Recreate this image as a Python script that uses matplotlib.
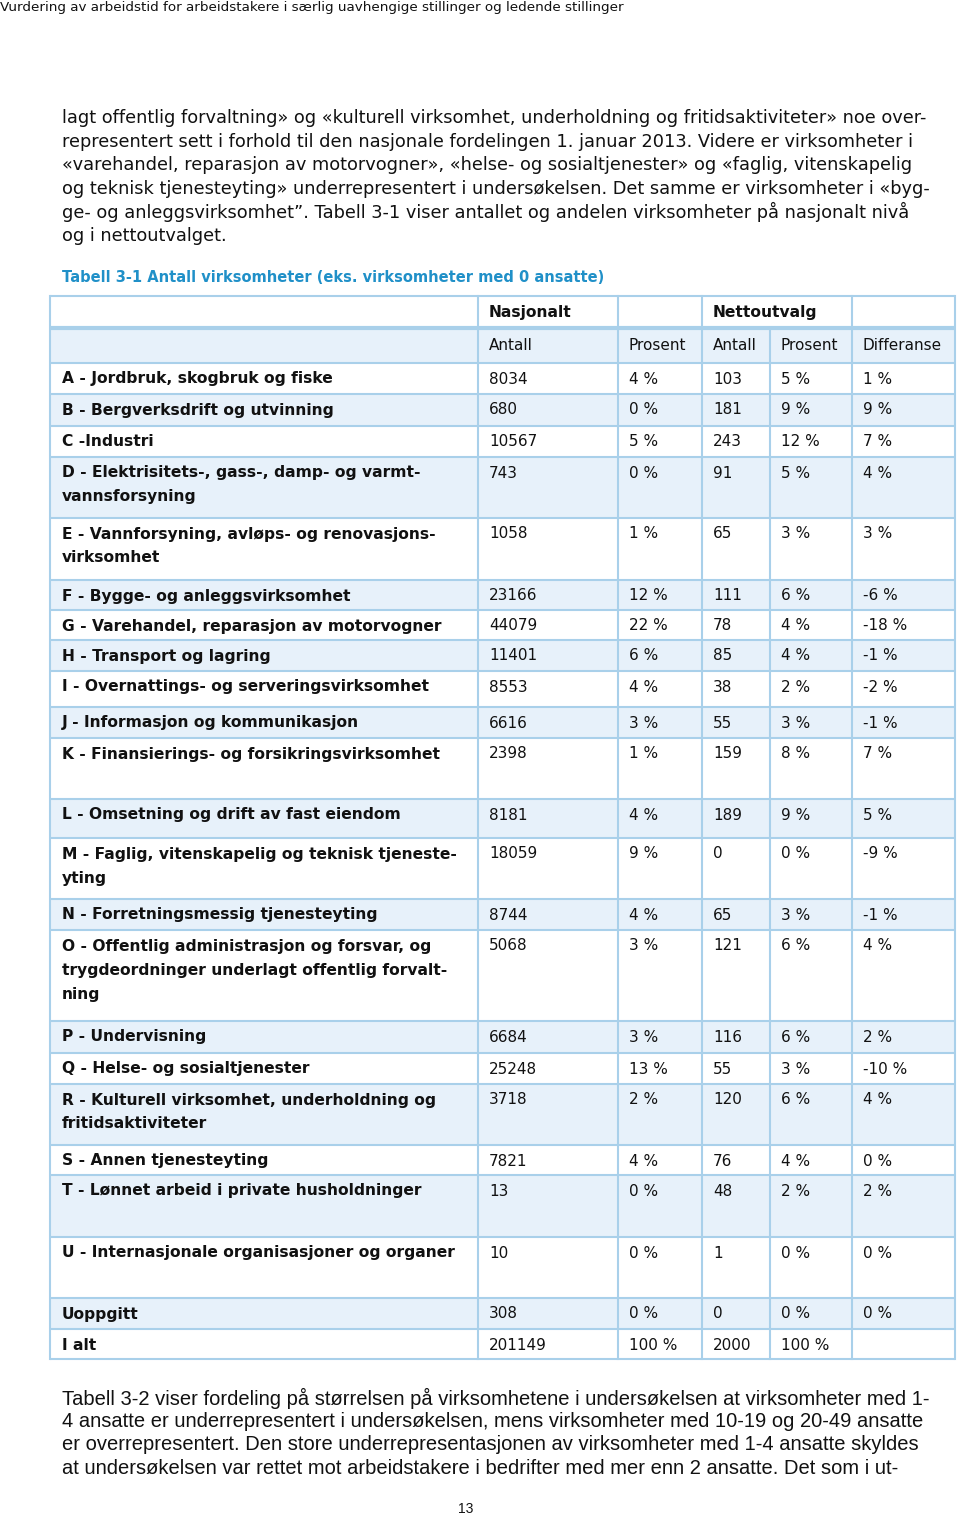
import matplotlib
matplotlib.use("Agg")
import matplotlib.pyplot as plt

# --- table data ---
categories = ["A - Jordbruk, skogbruk og fiske",
              "B - Bergverksdrift og utvinning",
              "C -Industri",
              "D - Elektrisitets-, gass-, damp- og varmt-\nvannsforsyning",
              "E - Vannforsyning, avløps- og renovasjons-\nvirksomhet",
              "F - Bygge- og anleggsvirksomhet",
              "G - Varehandel, reparasjon av motorvogner",
              "H - Transport og lagring",
              "I - Overnattings- og serveringsvirksomhet",
              "J - Informasjon og kommunikasjon",
              "K - Finansierings- og forsikringsvirksomhet",
              "L - Omsetning og drift av fast eiendom",
              "M - Faglig, vitenskapelig og teknisk tjeneste-\nyting",
              "N - Forretningsmessig tjenesteyting",
              "O - Offentlig administrasjon og forsvar, og\ntrygdeordninger underlagt offentlig forvalt-\nning",
              "P - Undervisning",
              "Q - Helse- og sosialtjenester",
              "R - Kulturell virksomhet, underholdning og\nfritidsaktiviteter",
              "S - Annen tjenesteyting",
              "T - Lønnet arbeid i private husholdninger",
              "U - Internasjonale organisasjoner og organer",
              "Uoppgitt",
              "I alt"]
nas_antall = [8034, 680, 10567, 743, 1058, 23166, 44079, 11401, 8553, 6616, 2398,
              8181, 18059, 8744, 5068, 6684, 25248, 3718, 7821, 13, 10, 308, 201149]
nas_pct = [4, 0, 5, 0, 1, 12, 22, 6, 4, 3, 1, 4, 9, 4, 3, 3, 13, 2, 4, 0, 0, 0, 100]
net_antall = [103, 181, 243, 91, 65, 111, 78, 85, 38, 55, 159, 189, 0, 65, 121, 116,
              55, 120, 76, 48, 1, 0, 2000]
net_pct = [5, 9, 12, 5, 3, 6, 4, 4, 2, 3, 8, 9, 0, 3, 6, 6, 3, 6, 4, 2, 0, 0, 100]
differanse = [1, 9, 7, 4, 3, -6, -18, -1, -2, -1, 7, 5, -9, -1, 4, 2, -10, 4, 0, 2, 0, 0, None]

group_headers = ["Nasjonalt", "Nettoutvalg"]
col_headers = ["Antall", "Prosent", "Antall", "Prosent", "Differanse"]

page_header = "Vurdering av arbeidstid for arbeidstakere i særlig uavhengige stillinger og ledende stillinger"
intro_lines = [
    "lagt offentlig forvaltning» og «kulturell virksomhet, underholdning og fritidsaktiviteter» noe over-",
    "representert sett i forhold til den nasjonale fordelingen 1. januar 2013. Videre er virksomheter i",
    "«varehandel, reparasjon av motorvogner», «helse- og sosialtjenester» og «faglig, vitenskapelig",
    "og teknisk tjenesteyting» underrepresentert i undersøkelsen. Det samme er virksomheter i «byg-",
    "ge- og anleggsvirksomhet”. Tabell 3-1 viser antallet og andelen virksomheter på nasjonalt nivå",
    "og i nettoutvalget.",
]
table_title = "Tabell 3-1 Antall virksomheter (eks. virksomheter med 0 ansatte)"
outro_lines = [
    "Tabell 3-2 viser fordeling på størrelsen på virksomhetene i undersøkelsen at virksomheter med 1-",
    "4 ansatte er underrepresentert i undersøkelsen, mens virksomheter med 10-19 og 20-49 ansatte",
    "er overrepresentert. Den store underrepresentasjonen av virksomheter med 1-4 ansatte skyldes",
    "at undersøkelsen var rettet mot arbeidstakere i bedrifter med mer enn 2 ansatte. Det som i ut-",
]
page_number = "13"

# --- layout (pixels) ---
W, H = 960, 1516
col_x = [50, 478, 618, 702, 770, 852, 955]
table_top = 296
row_h = [32, 35, 31, 32, 31, 61, 62, 30, 30, 31, 36, 31, 61, 39, 61, 31, 91, 32, 31, 61, 30, 62, 61, 31, 30]

border = "#a9d0ea"
band = "#e7f1fa"
title_blue = "#2090c8"
ink = "#111111"

fig = plt.figure(figsize=(W / 100, H / 100), dpi=100)
ax = fig.add_axes([0, 0, 1, 1])
ax.set_xlim(0, W)
ax.set_ylim(H, 0)
ax.axis("off")

fs = 11.0      # table body
fsb = 11.15    # table bold
ax.text(0, 7, page_header, fontsize=9.7, va="center", ha="left", color=ink)
for i, line in enumerate(intro_lines):
    ax.text(62, 118 + i * 23.6, line, fontsize=12.75, va="center", color=ink)
ax.text(62, 277, table_title, fontsize=10.55, fontweight="bold", va="center", color=title_blue)

# row tops
tops = [table_top]
for h in row_h:
    tops.append(tops[-1] + h)

# bands
for r in range(len(row_h)):
    if r % 2 == 1:
        ax.add_patch(plt.Rectangle((col_x[0], tops[r]), col_x[-1] - col_x[0], row_h[r],
                                   facecolor=band, edgecolor="none"))

lw = 1.5
# horizontal lines
for r, y in enumerate(tops):
    ax.plot([col_x[0], col_x[-1]], [y, y], color=border, lw=3.0 if r == 1 else lw,
            solid_capstyle="butt")
# vertical lines (no split between the two Nettoutvalg columns in the top header)
for j, x in enumerate(col_x):
    y0 = tops[1] if j == 4 else tops[0]
    ax.plot([x, x], [y0, tops[-1]], color=border, lw=lw)

pad = 11
# header rows
ax.text(col_x[1] + pad, tops[0] + 16, group_headers[0], fontsize=fsb, fontweight="bold", va="center", color=ink)
ax.text(col_x[3] + pad, tops[0] + 16, group_headers[1], fontsize=fsb, fontweight="bold", va="center", color=ink)
for j, h in enumerate(col_headers):
    ax.text(col_x[j + 1] + pad, tops[1] + 18, h, fontsize=fs, va="center", color=ink)

# body rows
for i, cat in enumerate(categories):
    r = i + 2
    y = tops[r] + 16
    for k, part in enumerate(cat.split("\n")):
        ax.text(62, y + k * 24, part, fontsize=fsb, fontweight="bold", va="center", color=ink)
    vals = [str(nas_antall[i]), f"{nas_pct[i]} %", str(net_antall[i]), f"{net_pct[i]} %",
            "" if differanse[i] is None else f"{differanse[i]} %"]
    for j, v in enumerate(vals):
        ax.text(col_x[j + 1] + pad, y, v, fontsize=fs, va="center", color=ink)

for i, line in enumerate(outro_lines):
    ax.text(62, 1398 + i * 23.5, line, fontsize=14.5, family="Liberation Sans", va="center", color=ink)
ax.text(466, 1509, page_number, fontsize=10, family="Liberation Sans", ha="center", va="center", color=ink)

fig.savefig("out.png", dpi=100)
